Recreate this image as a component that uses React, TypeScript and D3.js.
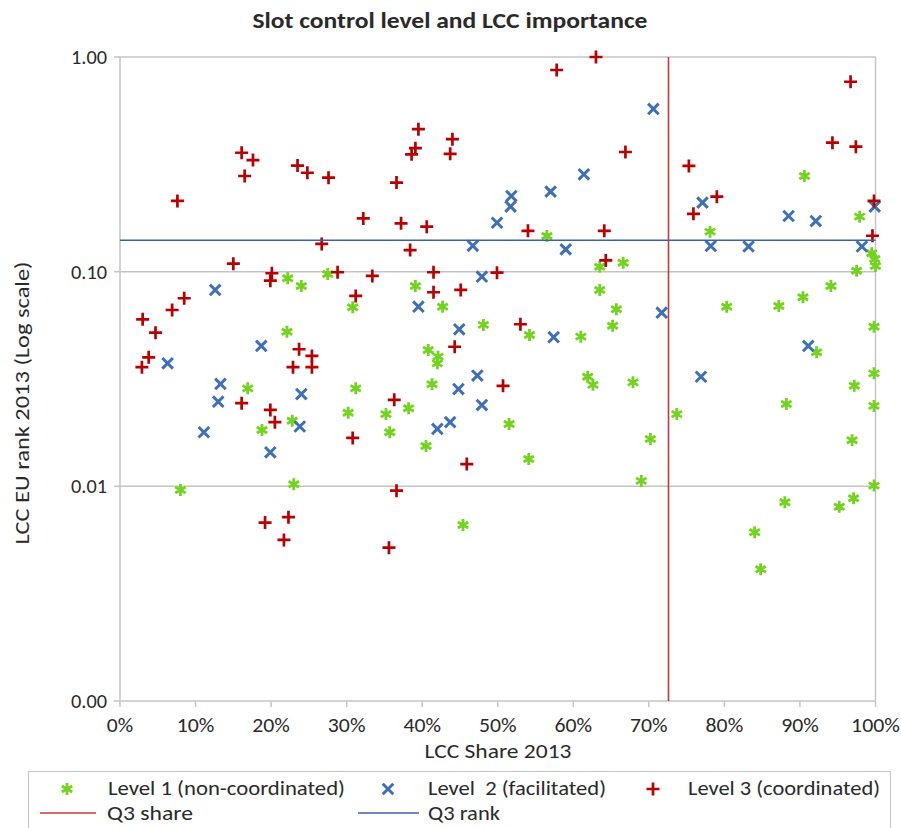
import React from "react";
import * as d3 from "d3";

// [LCC share (0-1), LCC EU rank (log)]
const level1: [number, number][] = [
  [0.565, 0.1466], [0.635, 0.1055], [0.666, 0.11], [0.906, 0.279], [0.781, 0.1536],
  [0.979, 0.1804], [0.995, 0.1218], [0.999, 0.1146], [1.0, 0.1063], [0.975, 0.101],
  [0.222, 0.0932], [0.24, 0.0858], [0.221, 0.0525], [0.169, 0.0286], [0.188, 0.0183],
  [0.228, 0.0202], [0.08, 0.00962], [0.23, 0.01023], [0.275, 0.0976], [0.391, 0.0858],
  [0.308, 0.0683], [0.427, 0.0687], [0.481, 0.0565], [0.408, 0.0432], [0.421, 0.0402],
  [0.42, 0.0374], [0.413, 0.0299], [0.312, 0.0286], [0.302, 0.022], [0.382, 0.0231],
  [0.352, 0.0217], [0.357, 0.01786], [0.405, 0.0154], [0.454, 0.00661], [0.635, 0.0822],
  [0.657, 0.0668], [0.652, 0.056], [0.542, 0.0507], [0.61, 0.0498], [0.619, 0.0324],
  [0.626, 0.0297], [0.679, 0.0305], [0.737, 0.0217], [0.515, 0.0195], [0.702, 0.0166],
  [0.541, 0.0134], [0.69, 0.0106], [0.941, 0.0858], [0.904, 0.076], [0.872, 0.0692],
  [0.803, 0.0687], [0.998, 0.0554], [0.922, 0.0421], [0.998, 0.0336], [0.972, 0.0294],
  [0.998, 0.0237], [0.882, 0.0242], [0.969, 0.0164], [0.998, 0.01008], [0.88, 0.00843],
  [0.952, 0.00804], [0.971, 0.0088], [0.84, 0.00611], [0.848, 0.00411],
];

const level2: [number, number][] = [
  [0.706, 0.573], [0.614, 0.284], [0.57, 0.236], [0.518, 0.225], [0.517, 0.201],
  [0.499, 0.169], [0.59, 0.127], [0.467, 0.132], [0.771, 0.2097], [0.885, 0.1817],
  [0.921, 0.172], [0.999, 0.201], [0.782, 0.1317], [0.832, 0.131], [0.982, 0.131],
  [0.126, 0.0822], [0.187, 0.0451], [0.063, 0.0374], [0.133, 0.03], [0.13, 0.0248],
  [0.111, 0.01786], [0.199, 0.0144], [0.24, 0.0269], [0.238, 0.019], [0.479, 0.0948],
  [0.395, 0.0687], [0.449, 0.0539], [0.473, 0.0328], [0.448, 0.0284], [0.479, 0.0239],
  [0.437, 0.0199], [0.42, 0.0185], [0.574, 0.0495], [0.717, 0.0644], [0.911, 0.0451],
  [0.769, 0.0324],
];

const level3: [number, number][] = [
  [0.63, 1.0], [0.578, 0.87], [0.967, 0.767], [0.161, 0.358], [0.176, 0.331],
  [0.165, 0.279], [0.076, 0.2135], [0.235, 0.312], [0.248, 0.289], [0.276, 0.274],
  [0.395, 0.461], [0.391, 0.376], [0.386, 0.352], [0.44, 0.414], [0.437, 0.354],
  [0.366, 0.26], [0.322, 0.177], [0.372, 0.168], [0.406, 0.162], [0.267, 0.1346],
  [0.384, 0.126], [0.669, 0.361], [0.753, 0.311], [0.759, 0.186], [0.79, 0.2235],
  [0.54, 0.155], [0.641, 0.155], [0.643, 0.1128], [0.499, 0.0989], [0.943, 0.399],
  [0.974, 0.382], [0.998, 0.2135], [0.996, 0.147], [0.15, 0.109], [0.201, 0.0983],
  [0.199, 0.0908], [0.085, 0.0752], [0.069, 0.0663], [0.03, 0.06], [0.047, 0.052],
  [0.038, 0.0399], [0.029, 0.0359], [0.237, 0.0435], [0.229, 0.0359], [0.161, 0.0244],
  [0.199, 0.0227], [0.205, 0.0199], [0.192, 0.00678], [0.223, 0.00718], [0.217, 0.00563],
  [0.288, 0.0994], [0.334, 0.0955], [0.415, 0.0994], [0.415, 0.0802], [0.451, 0.0822],
  [0.312, 0.0771], [0.254, 0.0405], [0.254, 0.0359], [0.363, 0.0253], [0.308, 0.0168],
  [0.443, 0.0447], [0.459, 0.0127], [0.507, 0.0294], [0.366, 0.00955], [0.356, 0.00518],
  [0.53, 0.0569],
];

const q3Share = 0.726;
const q3Rank = 0.14;

const xTicks = [0, 0.1, 0.2, 0.3, 0.4, 0.5, 0.6, 0.7, 0.8, 0.9, 1.0];
const yTicks = [0.001, 0.01, 0.1, 1];

const title = "Slot control level and LCC importance";
const xTitle = "LCC Share 2013";
const yTitle = "LCC EU rank 2013 (Log scale)";
const legendNames = ["Level 1 (non-coordinated)", "Level  2 (facilitated)", "Level 3 (coordinated)", "Q3 share", "Q3 rank"];

const FONT = "Carlito, Lato, 'Liberation Sans', sans-serif";
const GREEN = "#72d41e";
const BLUE = "#3f6fb4";
const RED = "#b80000";
const RED_LINE = "#c43a3a";
const BLUE_LINE = "#3a62a8";
const GRID = "#c4c4c4";
const TEXT = "#2a2a2a";

const plus = (s: number) => `M${-s},0H${s}M0,${-s}V${s}`;
const cross = (s: number) => `M${-s},${-s}L${s},${s}M${-s},${s}L${s},${-s}`;
const star = (s: number) => {
  const a = s * 0.866, b = s * 0.5;
  return `M0,${-s}V${s}M${-a},${-b}L${a},${b}M${-a},${b}L${a},${-b}`;
};

export default function App() {
  const W = 901, H = 828;
  const left = 120, right = 875.5, top = 57, bottom = 701;
  const x = d3.scaleLinear().domain([0, 1]).range([left, right]);
  const y = d3.scaleLog().domain([0.001, 1]).range([bottom, top]);
  const fmtY = d3.format(".2f");
  const fmtX = d3.format(".0%");
  const TICK_FS = 20;
  const LEG_FS = 21;

  return (
    <div style={{ position: "absolute", left: 0, top: 0 }}>
      <svg width={W} height={H} style={{ display: "block", fontFamily: FONT }}>
        <rect width={W} height={H} fill="#fff" />
        <text x={450} y={28} textAnchor="middle" fontSize={22} fontWeight="bold" fill={TEXT}
          textLength={395} lengthAdjust="spacingAndGlyphs">{title}</text>

        {/* gridlines */}
        {yTicks.slice(1).map((t) => (
          <line key={t} x1={left} x2={right} y1={y(t)} y2={y(t)} stroke={GRID} strokeWidth={1.5} />
        ))}
        <line x1={right} x2={right} y1={top} y2={bottom} stroke={GRID} strokeWidth={1.5} />
        {/* axes */}
        <line x1={left} x2={left} y1={top} y2={bottom} stroke={GRID} strokeWidth={1.5} />
        <line x1={left} x2={right} y1={bottom} y2={bottom} stroke={GRID} strokeWidth={1.5} />
        {xTicks.map((t) => (
          <g key={t}>
            <line x1={x(t)} x2={x(t)} y1={bottom} y2={bottom + 6} stroke={GRID} strokeWidth={1.5} />
            <text x={x(t)} y={bottom + 31} textAnchor="middle" fontSize={TICK_FS} fill={TEXT}
              textLength={fmtX(t).length * 11.2 + 4} lengthAdjust="spacingAndGlyphs">{fmtX(t)}</text>
          </g>
        ))}
        {yTicks.map((t) => (
          <g key={t}>
            <line x1={left - 6} x2={left} y1={y(t)} y2={y(t)} stroke={GRID} strokeWidth={1.5} />
            <text x={left - 13} y={y(t) + 7} textAnchor="end" fontSize={TICK_FS} fill={TEXT}
              textLength={36} lengthAdjust="spacingAndGlyphs">{fmtY(t)}</text>
          </g>
        ))}
        <text x={498} y={758} textAnchor="middle" fontSize={21} fill={TEXT}
          textLength={147} lengthAdjust="spacingAndGlyphs">{xTitle}</text>
        <text transform={`translate(29,403) rotate(-90)`} textAnchor="middle" fontSize={21} fill={TEXT}
          textLength={283} lengthAdjust="spacingAndGlyphs">{yTitle}</text>

        {/* markers */}
        {level1.map(([s, r], i) => (
          <path key={"a" + i} d={star(6)} transform={`translate(${x(s)},${y(r)})`} stroke={GREEN} strokeWidth={2.8} fill="none" />
        ))}
        {level2.map(([s, r], i) => (
          <path key={"b" + i} d={cross(5.3)} transform={`translate(${x(s)},${y(r)})`} stroke={BLUE} strokeWidth={3} fill="none" />
        ))}
        {level3.map(([s, r], i) => (
          <path key={"c" + i} d={plus(6.5)} transform={`translate(${x(s)},${y(r)})`} stroke={RED} strokeWidth={2.7} fill="none" />
        ))}

        {/* Q3 lines */}
        <line x1={x(q3Share)} x2={x(q3Share)} y1={top} y2={bottom} stroke={RED_LINE} strokeWidth={1.6} />
        <line x1={left} x2={right} y1={y(q3Rank)} y2={y(q3Rank)} stroke={BLUE_LINE} strokeWidth={1.6} />

        {/* legend */}
        <rect x={28.5} y={771.5} width={862} height={60} fill="none" stroke={GRID} strokeWidth={1} />
        <path d={star(6)} transform="translate(67,789)" stroke={GREEN} strokeWidth={2.8} fill="none" />
        <text x={108} y={795} fontSize={LEG_FS} fill={TEXT} textLength={237} lengthAdjust="spacingAndGlyphs">{legendNames[0]}</text>
        <path d={cross(5.3)} transform="translate(388,789)" stroke={BLUE} strokeWidth={3} fill="none" />
        <text x={428} y={795} fontSize={LEG_FS} fill={TEXT} textLength={178} lengthAdjust="spacingAndGlyphs" style={{ whiteSpace: "pre" }}>{legendNames[1]}</text>
        <path d={plus(6.5)} transform="translate(653,789)" stroke={RED} strokeWidth={2.7} fill="none" />
        <text x={688} y={795} fontSize={LEG_FS} fill={TEXT} textLength={192} lengthAdjust="spacingAndGlyphs">{legendNames[2]}</text>
        <line x1={40} x2={96} y1={813} y2={813} stroke={RED_LINE} strokeWidth={1.6} />
        <text x={107} y={820} fontSize={LEG_FS} fill={TEXT} textLength={86} lengthAdjust="spacingAndGlyphs">{legendNames[3]}</text>
        <line x1={358} x2={419} y1={813} y2={813} stroke={BLUE_LINE} strokeWidth={1.6} />
        <text x={428} y={820} fontSize={LEG_FS} fill={TEXT} textLength={72} lengthAdjust="spacingAndGlyphs">{legendNames[4]}</text>
      </svg>
    </div>
  );
}
